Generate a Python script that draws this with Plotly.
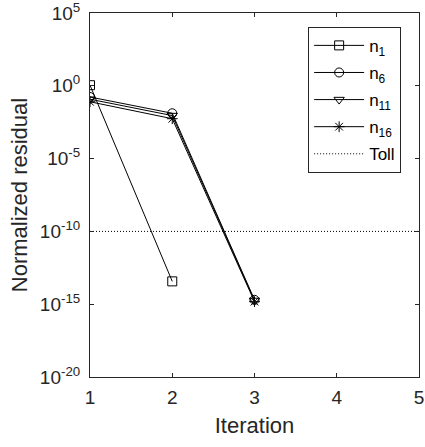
import plotly.graph_objects as go

iterations = [1, 2, 3]
n1_iter = [1, 2]
n1 = [1.1, 3.7e-14]
n6 = [0.17, 0.013, 2.0e-15]
n11 = [0.12, 0.009, 1.8e-15]
n16 = [0.08, 0.0055, 1.5e-15]
toll_x = [1, 5]
toll = [1e-10, 1e-10]

ytick_exp = [5, 0, -5, -10, -15, -20]
xticks = [1, 2, 3, 4, 5]

FONT = "Liberation Sans, Arial, sans-serif"
AX = "#262626"

fig = go.Figure()
line = dict(color="black", width=1)
mk = dict(color="black", size=9, line=dict(color="black", width=1))

fig.add_trace(go.Scatter(x=n1_iter, y=n1, mode="lines+markers", name="n<sub>1</sub>",
                         legendgroup="a", line=line, marker=dict(symbol="square-open", **mk)))
fig.add_trace(go.Scatter(x=iterations, y=n6, mode="lines+markers", name="n<sub>6</sub>",
                         legendgroup="b", line=line, marker=dict(symbol="circle-open", **mk)))
fig.add_trace(go.Scatter(x=iterations, y=n11, mode="lines+markers", name="n<sub>11</sub>",
                         legendgroup="c", line=line, marker=dict(symbol="triangle-down-open", **mk)))
fig.add_trace(go.Scatter(x=iterations, y=n16, mode="lines+markers", name="n<sub>16</sub>",
                         legendgroup="d", line=line, marker=dict(symbol="asterisk-open", **mk)))
fig.add_trace(go.Scatter(x=toll_x, y=toll, mode="lines", name="Toll", legendgroup="e",
                         line=dict(color="black", width=1, dash="1px,2px")))

fig.update_layout(
    width=425, height=447,
    margin=dict(l=90, r=6, t=13, b=70),
    paper_bgcolor="white", plot_bgcolor="white",
    font=dict(family=FONT, size=17, color=AX),
    showlegend=True,
    legend=dict(x=0.663, y=0.962, xanchor="left", yanchor="top",
                bordercolor=AX, borderwidth=1, bgcolor="white",
                font=dict(size=17, color="black"), itemwidth=50,
                tracegroupgap=2),
)
fig.update_xaxes(
    range=[1, 5], tickvals=xticks, ticks="inside", ticklen=4, tickcolor=AX,
    showline=True, linecolor=AX, linewidth=1, mirror="ticks", showgrid=False,
    zeroline=False, title=dict(text="Iteration", font=dict(size=22, color=AX), standoff=10),
    tickfont=dict(size=19, color=AX), ticklabelstandoff=3, ticklabeloverflow="allow",
    automargin=False,
)
fig.update_yaxes(
    type="log", range=[-20, 5],
    tickvals=[10.0 ** e for e in ytick_exp],
    ticktext=["10<sup>%d</sup>" % e for e in ytick_exp],
    ticks="inside", ticklen=4, tickcolor=AX,
    showline=True, linecolor=AX, linewidth=1, mirror="ticks", showgrid=False,
    zeroline=False, title=dict(text="Normalized residual", font=dict(size=22, color=AX), standoff=6),
    tickfont=dict(size=19, color=AX), ticklabelstandoff=5, ticklabeloverflow="allow",
    automargin=False,
)

fig.write_html("out.html")
